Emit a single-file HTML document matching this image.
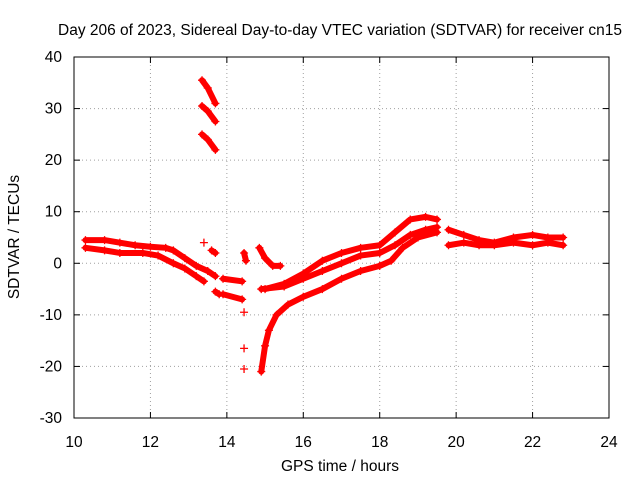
<!DOCTYPE html>
<html><head><meta charset="utf-8"><style>
body{margin:0;background:#fff;}
svg{display:block;font-family:"Liberation Sans",sans-serif;font-size:15.5px;}
</style></head><body>
<svg id="chart" width="640" height="480">
<text x="340" y="35" text-anchor="middle">Day 206 of 2023, Sidereal Day-to-day VTEC variation (SDTVAR) for receiver cn15</text>
<g id="grid"></g>
<g id="axes"></g>
<g id="marks"></g>
<text x="340" y="471" text-anchor="middle">GPS time / hours</text>
<text transform="translate(19,237) rotate(-90)" text-anchor="middle">SDTVAR / TECUs</text>
</svg>
<script>
const xTicks=[10,12,14,16,18,20,22,24];
const yTicks=[-30,-20,-10,0,10,20,30,40];
const tracks=[
[[10.3,4.5],[10.8,4.5],[11.2,4],[11.6,3.5],[12,3.2],[12.4,3],[12.6,2.5],[12.9,1],[13.2,-0.5],[13.5,-1.5],[13.7,-2.5]],
[[10.3,3],[10.8,2.5],[11.2,2],[11.8,2],[12.2,1.5],[12.6,0],[12.9,-1],[13.2,-2.5],[13.4,-3.5]],
[[13.7,-5.5],[13.8,-6]],
[[13.35,35.5],[13.5,34],[13.7,31]],
[[13.35,30.5],[13.5,29.5],[13.7,27.5]],
[[13.35,25],[13.5,24],[13.7,22]],
[[13.4,4]],
[[13.6,2.5],[13.7,2]],
[[13.9,-3],[14.4,-3.5]],
[[13.9,-6],[14.4,-7]],
[[14.45,-9.5]],
[[14.45,-16.5]],
[[14.45,-20.5]],
[[14.45,2],[14.5,0.5]],
[[14.85,3],[15,1],[15.2,-0.5],[15.4,-0.5]],
[[14.9,-21],[15,-16],[15.1,-13],[15.3,-10],[15.6,-8],[16,-6.5],[16.5,-5],[17,-3],[17.5,-1.5],[18,-0.5],[18.3,0.5],[18.6,3],[19,5],[19.5,6]],
[[14.9,-5],[15.5,-4.5],[16,-3],[16.5,-1.5],[17,0],[17.5,1.5],[18,2],[18.4,3.5],[18.8,5.5],[19.2,6.5],[19.5,7]],
[[15,-5],[15.5,-4],[16,-2],[16.5,0.5],[17,2],[17.5,3],[18,3.5],[18.4,6],[18.8,8.5],[19.2,9],[19.5,8.5]],
[[19.8,6.5],[20.2,5.5],[20.6,4.5],[21,4],[21.5,5],[22,5.5],[22.4,5],[22.8,5]],
[[19.8,3.5],[20.2,4],[20.6,3.5],[21,3.5],[21.5,4],[22,3.5],[22.4,4],[22.8,3.5]]
];
const L=74,R=609,T=57,B=418,x0=10,x1=24,y0=-30,y1=40;
const sx=v=>L+(v-x0)/(x1-x0)*(R-L);
const sy=v=>B-(v-y0)/(y1-y0)*(B-T);
const NS="http://www.w3.org/2000/svg";
function mk(tag,attrs,parent){const e=document.createElementNS(NS,tag);for(const k in attrs)e.setAttribute(k,attrs[k]);parent.appendChild(e);return e;}
const grid=document.getElementById('grid'),axes=document.getElementById('axes'),marks=document.getElementById('marks');
xTicks.forEach(v=>{
 const X=sx(v);
 if(v>x0&&v<x1){const g=mk('line',{x1:X,x2:X,y1:T,y2:B,stroke:'#a0a0a0','stroke-dasharray':'1,3'},grid);
 
 }
 mk('line',{x1:X,x2:X,y1:B,y2:B-6,stroke:'#000'},axes);
 mk('line',{x1:X,x2:X,y1:T,y2:T+6,stroke:'#000'},axes);
 const t=mk('text',{x:X,y:B+29,'text-anchor':'middle'},axes);t.textContent=v;
 
 
});
yTicks.forEach(v=>{
 const Y=sy(v);
 if(v>y0&&v<y1){const g=mk('line',{x1:L,x2:R,y1:Y,y2:Y,stroke:'#a0a0a0','stroke-dasharray':'1,3'},grid);
 
 }
 mk('line',{x1:L,x2:L+6,y1:Y,y2:Y,stroke:'#000'},axes);
 mk('line',{x1:R,x2:R-6,y1:Y,y2:Y,stroke:'#000'},axes);
 const t=mk('text',{x:L-12,y:Y+5,'text-anchor':'end'},axes);t.textContent=v;
 
 
});
const fr=mk('rect',{x:L,y:T,width:R-L,height:B-T,fill:'none',stroke:'#000'},axes);


tracks.forEach(tr=>{
 const g=mk('g',{},marks);
 
 
 if(tr.length>1){mk('polyline',{points:tr.map(p=>sx(p[0])+','+sy(p[1])).join(' '),fill:'none',stroke:'#f00','stroke-width':6,'stroke-linejoin':'round','stroke-linecap':'round'},g);}
 tr.forEach(p=>{const X=sx(p[0]),Y=sy(p[1]);
  const m=mk('path',{d:`M${X-4},${Y}H${X+4}M${X},${Y-4}V${Y+4}`,stroke:'#f00','stroke-width':1.3},g);
  
  
 });
});
</script>
</body></html>
